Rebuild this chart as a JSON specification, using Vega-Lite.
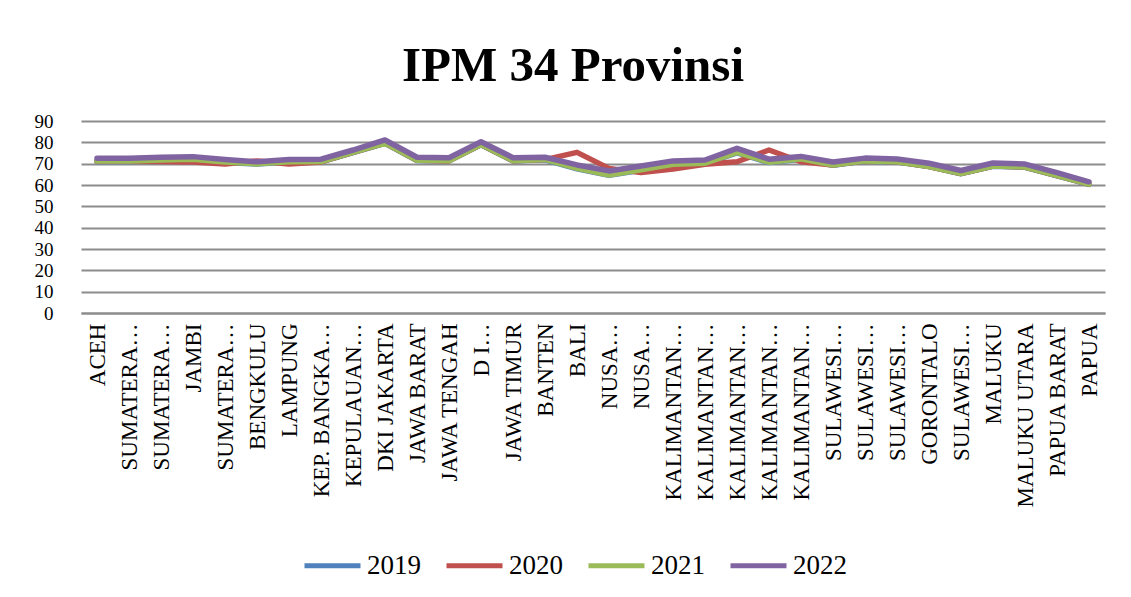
{
  "$schema": "https://vega.github.io/schema/vega-lite/v6.json",
  "width": 1024,
  "height": 192,
  "autosize": {"type": "none"},
  "padding": {"left": 81, "top": 121, "right": 26, "bottom": 284},
  "background": "white",
  "title": {
    "text": "IPM 34 Provinsi",
    "font": "Liberation Serif",
    "fontSize": 49,
    "fontWeight": "bold",
    "color": "black",
    "anchor": "middle",
    "frame": "group",
    "dx": -20,
    "offset": 21
  },
  "data": {
    "values": [
      {"provinsi": "ACEH", "2019": 71.0, "2020": 71.3, "2021": 71.2, "2022": 72.5},
      {"provinsi": "SUMATERA UTARA", "2019": 71.0, "2020": 71.2, "2021": 71.2, "2022": 72.5},
      {"provinsi": "SUMATERA BARAT", "2019": 71.6, "2020": 71.0, "2021": 71.7, "2022": 73.0},
      {"provinsi": "JAMBI", "2019": 72.0, "2020": 70.8, "2021": 72.1, "2022": 73.3},
      {"provinsi": "SUMATERA SELATAN", "2019": 70.6, "2020": 69.8, "2021": 70.8, "2022": 72.0},
      {"provinsi": "BENGKULU", "2019": 69.8, "2020": 71.3, "2021": 69.9, "2022": 70.9},
      {"provinsi": "LAMPUNG", "2019": 70.8, "2020": 69.8, "2021": 70.9, "2022": 72.0},
      {"provinsi": "KEP. BANGKA BELITUNG", "2019": 70.9, "2020": 70.8, "2021": 71.0, "2022": 72.1},
      {"provinsi": "KEPULAUAN RIAU", "2019": 75.2, "2020": 75.3, "2021": 75.3, "2022": 76.4},
      {"provinsi": "DKI JAKARTA", "2019": 79.5, "2020": 79.6, "2021": 79.6, "2022": 81.1},
      {"provinsi": "JAWA BARAT", "2019": 71.5, "2020": 71.6, "2021": 71.6, "2022": 73.0},
      {"provinsi": "JAWA TENGAH", "2019": 71.3, "2020": 71.3, "2021": 71.4, "2022": 72.8},
      {"provinsi": "D I YOGYAKARTA", "2019": 78.9, "2020": 79.0, "2021": 79.0, "2022": 80.3},
      {"provinsi": "JAWA TIMUR", "2019": 71.3, "2020": 71.4, "2021": 71.4, "2022": 72.8},
      {"provinsi": "BANTEN", "2019": 71.8, "2020": 71.9, "2021": 72.0, "2022": 73.0},
      {"provinsi": "BALI", "2019": 67.6, "2020": 75.3, "2021": 67.8, "2022": 69.4},
      {"provinsi": "NUSA TENGGARA BARAT", "2019": 64.5, "2020": 67.8, "2021": 64.7, "2022": 66.6},
      {"provinsi": "NUSA TENGGARA TIMUR", "2019": 66.9, "2020": 65.8, "2021": 67.1, "2022": 68.9},
      {"provinsi": "KALIMANTAN BARAT", "2019": 69.5, "2020": 67.5, "2021": 69.7, "2022": 71.3},
      {"provinsi": "KALIMANTAN TENGAH", "2019": 70.0, "2020": 69.7, "2021": 70.2, "2022": 71.7},
      {"provinsi": "KALIMANTAN SELATAN", "2019": 75.1, "2020": 70.9, "2021": 75.3, "2022": 77.2},
      {"provinsi": "KALIMANTAN TIMUR", "2019": 70.5, "2020": 76.4, "2021": 70.7, "2022": 72.1},
      {"provinsi": "KALIMANTAN UTARA", "2019": 72.1, "2020": 70.9, "2021": 72.3, "2022": 73.4},
      {"provinsi": "SULAWESI UTARA", "2019": 69.2, "2020": 69.4, "2021": 69.4, "2022": 70.8},
      {"provinsi": "SULAWESI TENGAH", "2019": 71.2, "2020": 71.4, "2021": 71.3, "2022": 72.6},
      {"provinsi": "SULAWESI SELATAN", "2019": 70.8, "2020": 70.9, "2021": 70.9, "2022": 72.2},
      {"provinsi": "GORONTALO", "2019": 68.6, "2020": 68.7, "2021": 68.7, "2022": 70.2},
      {"provinsi": "SULAWESI BARAT", "2019": 65.3, "2020": 65.4, "2021": 65.4, "2022": 66.8},
      {"provinsi": "MALUKU", "2019": 68.8, "2020": 68.9, "2021": 68.9, "2022": 70.3},
      {"provinsi": "MALUKU UTARA", "2019": 68.3, "2020": 68.4, "2021": 68.4, "2022": 69.8},
      {"provinsi": "PAPUA BARAT", "2019": 64.3, "2020": 64.4, "2021": 64.4, "2022": 65.8},
      {"provinsi": "PAPUA", "2019": 60.3, "2020": 60.4, "2021": 60.4, "2022": 61.5}
    ]
  },
  "transform": [
    {"fold": ["2019", "2020", "2021", "2022"], "as": ["tahun", "ipm"]}
  ],
  "mark": {"type": "line", "strokeWidth": 5.5, "strokeCap": "round", "strokeJoin": "round"},
  "encoding": {
    "x": {
      "field": "provinsi",
      "type": "nominal",
      "sort": null,
      "scale": {"type": "point", "padding": 0.5},
      "axis": {
        "title": null,
        "labelAngle": -90,
        "labelAlign": "right",
        "labelBaseline": "middle",
        "labelFontSize": 23,
        "labelColor": "black",
        "labelPadding": 10,
        "labelLimit": 400,
        "labelOverlap": false,
        "labelExpr": "length(datum.label) > 12 ? substring(datum.label, 0, lastindexof(substring(datum.label, 0, 13), ' ')) + '…' : datum.label",
        "ticks": false,
        "grid": false,
        "domain": true,
        "domainColor": "#8c8c8c",
        "domainWidth": 2
      }
    },
    "y": {
      "field": "ipm",
      "type": "quantitative",
      "scale": {"domain": [0, 90], "nice": false, "zero": true},
      "axis": {
        "title": null,
        "values": [0, 10, 20, 30, 40, 50, 60, 70, 80, 90],
        "labelFontSize": 19,
        "labelColor": "black",
        "labelPadding": 28,
        "labelOverlap": false,
        "labelFlush": false,
        "ticks": false,
        "domain": false,
        "grid": true,
        "gridColor": "#8c8c8c",
        "gridWidth": 2,
        "gridOpacity": 1
      }
    },
    "color": {
      "field": "tahun",
      "type": "nominal",
      "scale": {
        "domain": ["2019", "2020", "2021", "2022"],
        "range": ["#4F81BD", "#C0504D", "#9BBB59", "#8064A2"]
      },
      "legend": {
        "title": null,
        "orient": "none",
        "legendX": 221,
        "legendY": 414,
        "direction": "horizontal",
        "symbolType": "stroke",
        "symbolSize": 3136,
        "symbolStrokeWidth": 5,
        "labelFontSize": 27,
        "labelColor": "black",
        "labelOffset": 4,
        "columnPadding": 15
      }
    }
  },
  "config": {
    "font": "Liberation Serif",
    "axis": {"labelFont": "Liberation Serif"},
    "legend": {"labelFont": "Liberation Serif"},
    "view": {"stroke": null}
  }
}
